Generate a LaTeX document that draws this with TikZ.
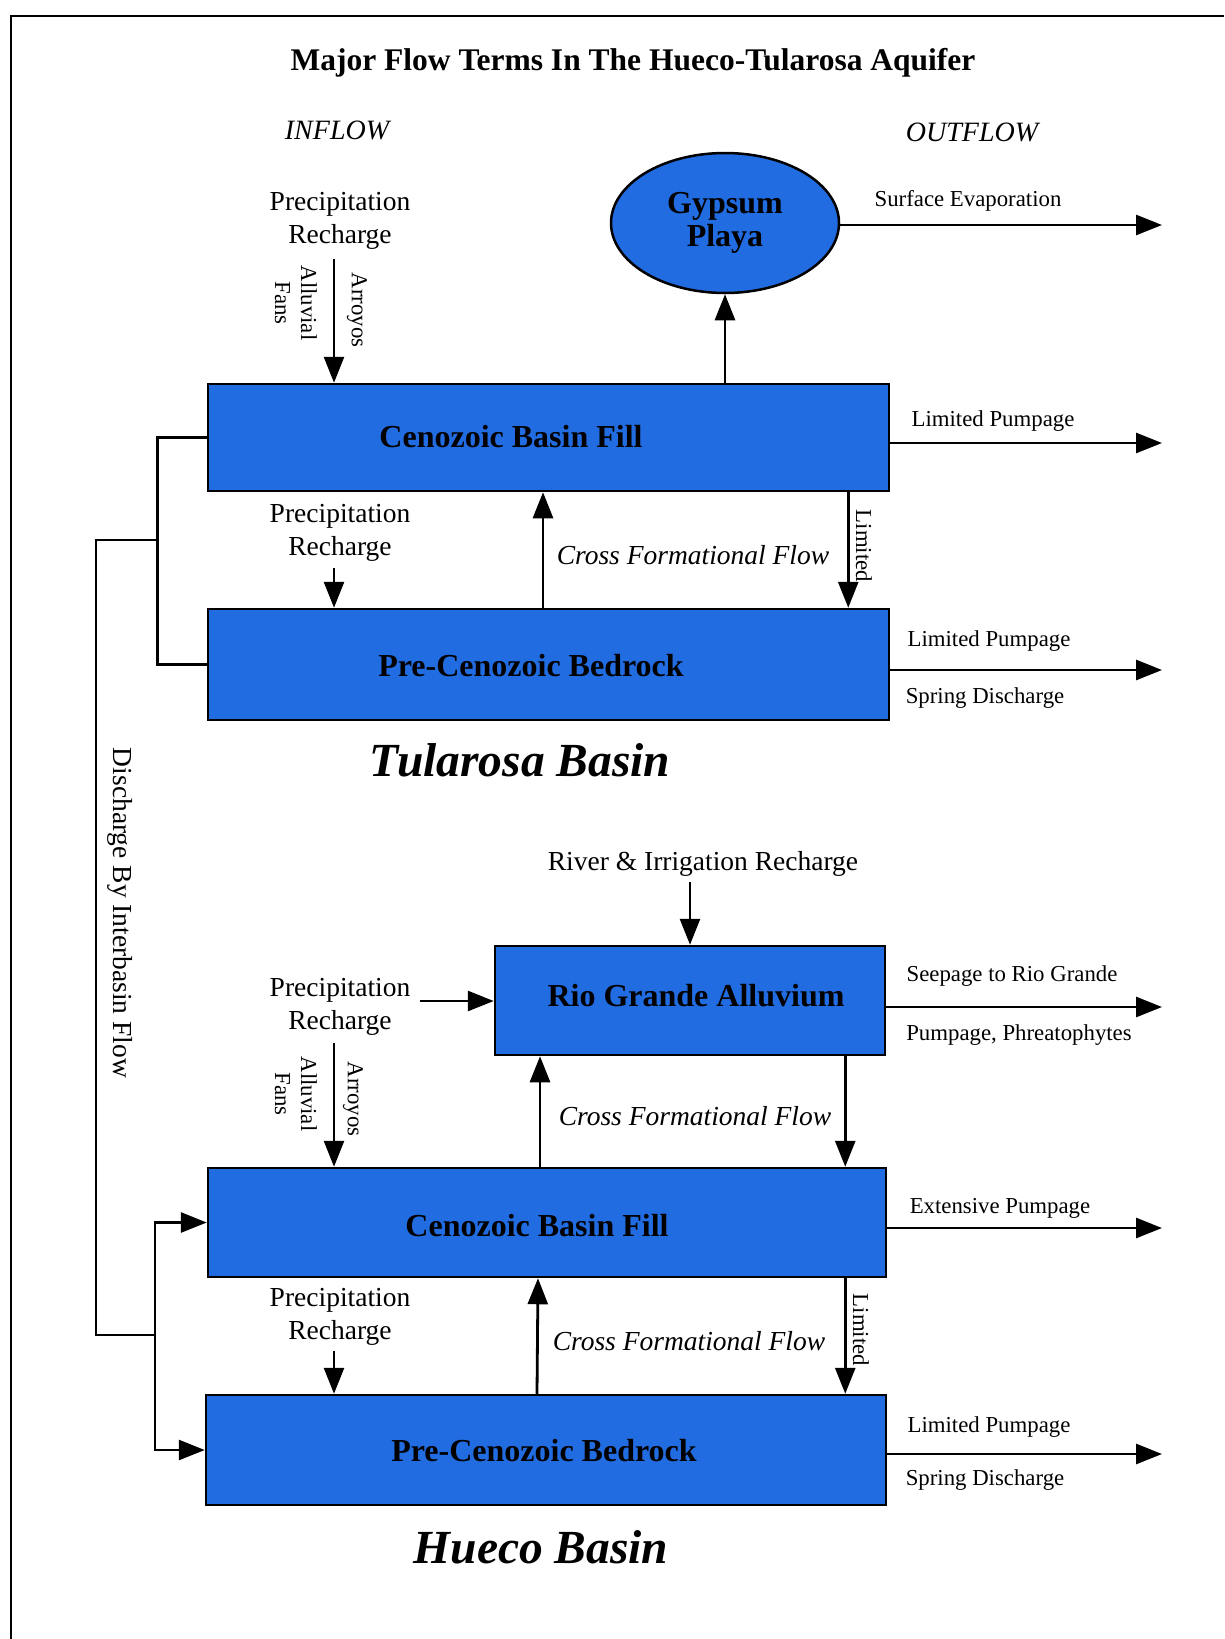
\documentclass[tikz,border=0pt]{standalone}
\usepackage{fontspec}
\setmainfont{Liberation Serif}
\usepackage{xcolor}
\usetikzlibrary{arrows.meta, positioning, calc, shapes.geometric}
\definecolor{basinblue}{RGB}{34,108,226}

\begin{document}
\begin{tikzpicture}[
    x=1pt, y=-1pt,
    line width=2.8pt,
    flow/.style={-{Triangle[length=26pt,width=20pt]}},
    basinbox/.style={draw=black, line width=2.5pt, fill=basinblue, inner sep=0pt},
    boxtext/.style={font=\bfseries\fontsize{32}{34}\selectfont},
    termtext/.style={font=\fontsize{27.5}{32.5}\selectfont, align=center, inner sep=2pt},
    smalltext/.style={font=\fontsize{22.8}{26}\selectfont, inner sep=0pt},
    crosstext/.style={font=\itshape\fontsize{27.5}{32}\selectfont, inner sep=0pt},
    basintitle/.style={font=\bfseries\itshape\fontsize{47.5}{52}\selectfont}
]

\useasboundingbox (0,0) rectangle (1224,1639);

% frame
\draw[line width=2.5pt] (11,1639) -- (11,16) -- (1224,16);

% =========================================================
% HEADER
% =========================================================
\node[font=\bfseries\fontsize{31.5}{34}\selectfont] (title) at (633,63) {Major Flow Terms In The Hueco-Tularosa Aquifer};
\node[font=\itshape\fontsize{28}{32}\selectfont] (inflow) at (337,130) {INFLOW};
\node[font=\itshape\fontsize{28}{32}\selectfont] (outflow) at (972,132) {OUTFLOW};

% =========================================================
% TULAROSA BASIN
% =========================================================
\begin{scope}

% boxes
\node[basinbox, ellipse, minimum width=228, minimum height=140,
      font=\bfseries\fontsize{32}{33.5}\selectfont, align=center] (playa) at (725,223) {Gypsum\\Playa};
\node[basinbox, minimum width=681, minimum height=107] (tfill) at (548.5,437.5) {};
\node[boxtext] (tfilltext) at (511,437) {Cenozoic Basin Fill};
\node[basinbox, minimum width=681, minimum height=111] (tbed) at (548.5,664.5) {};
\node[boxtext] (tbedtext) at (531,666) {Pre-Cenozoic Bedrock};

% inflow terms
\node[termtext] (ptop) at (340,221) {Precipitation\\Recharge};
\draw[flow] ([xshift=-6pt,yshift=-6pt]ptop.south) -- ([xshift=-6pt]ptop.south |- tfill.north);
\node[smalltext, rotate=-90, align=center] (tfans) at (296,303) {Alluvial\\Fans};
\node[smalltext, rotate=-90] (tarroyos) at (357,310) {Arroyos};

\node[termtext] (ptmid) at (340,533) {Precipitation\\Recharge};
\draw[flow] ([xshift=-6pt,yshift=-3pt]ptmid.south) -- ([xshift=-6pt]ptmid.south |- tbed.north);

% between the boxes
\draw[flow] (playa.south |- tfill.north) -- (playa.south);
\draw[flow] ([xshift=-5.5pt]tbed.north) -- ([xshift=-5.5pt]tfill.south);
\node[crosstext] (tcross) at (693,555) {Cross Formational Flow};
\draw[flow] ([xshift=-42pt]tfill.south east) -- ([xshift=-42pt]tbed.north east);
\node[smalltext, rotate=-90] (tlimited) at (864,546) {Limited};

% outflow terms
\coordinate (evapend) at (1162,225);
\draw[flow] (evapend -| playa.east) -- (evapend);
\node[smalltext] (evap) at (968,201) {Surface Evaporation};

\coordinate (tpumpend) at (1162,443);
\draw[flow] (tpumpend -| tfill.east) -- (tpumpend);
\node[smalltext] (tpump) at (993,421) {Limited Pumpage};

\coordinate (tspringend) at (1162,670);
\draw[flow] (tspringend -| tbed.east) -- (tspringend);
\node[smalltext] (tbedpump) at (989,641) {Limited Pumpage};
\node[smalltext] (tspring) at (985,698) {Spring Discharge};

\node[basintitle] (tularosa) at (520,760) {Tularosa Basin};

\end{scope}

% =========================================================
% HUECO BASIN
% =========================================================
\begin{scope}

% boxes
\node[basinbox, minimum width=390, minimum height=109] (rio) at (690,1000.5) {};
\node[boxtext] (riotext) at (696,996) {Rio Grande Alluvium};
\node[basinbox, minimum width=678, minimum height=109] (hfill) at (547,1222.5) {};
\node[boxtext] (hfilltext) at (537,1226) {Cenozoic Basin Fill};
\node[basinbox, minimum width=680, minimum height=110] (hbed) at (546,1450) {};
\node[boxtext] (hbedtext) at (544,1451) {Pre-Cenozoic Bedrock};

% inflow terms
\node[termtext] (river) at (703,864) {River \& Irrigation Recharge};
\draw[flow] ([yshift=-2pt]river.south -| rio.north) -- (rio.north);

\node[termtext] (phtop) at (340,1007) {Precipitation\\Recharge};
\draw[flow] ([yshift=6pt,xshift=6pt]phtop.east) -- ([yshift=6pt]phtop.east -| rio.west);
\draw[flow] ([xshift=-6pt,yshift=-4pt]phtop.south) -- ([xshift=-6pt]phtop.south |- hfill.north);
\node[smalltext, rotate=-90, align=center] (hfans) at (296,1094) {Alluvial\\Fans};
\node[smalltext, rotate=-90] (harroyos) at (353,1099) {Arroyos};

\node[termtext] (phmid) at (340,1317) {Precipitation\\Recharge};
\draw[flow] ([xshift=-6pt,yshift=-2pt]phmid.south) -- ([xshift=-6pt]phmid.south |- hbed.north);

% between the boxes
\draw[flow] ([xshift=-7pt]hfill.north) -- ([xshift=-7pt]hfill.north |- rio.south);
\draw[flow] ([xshift=-41pt]rio.south east) -- ([xshift=-41pt]rio.south east |- hfill.north);
\node[crosstext] (hcrossup) at (695,1116) {Cross Formational Flow};
\draw[flow] ([xshift=-9pt]hbed.north) -- ([xshift=-9pt]hfill.south);
\node[crosstext] (hcross) at (689,1341) {Cross Formational Flow};
\draw[flow] ([xshift=-42pt]hfill.south east) -- ([xshift=-42pt]hbed.north east);
\node[smalltext, rotate=-90] (hlimited) at (861,1330) {Limited};

% outflow terms
\coordinate (seepend) at (1162,1007);
\draw[flow] (seepend -| rio.east) -- (seepend);
\node[smalltext] (seep) at (1012,976) {Seepage to Rio Grande};
\node[smalltext] (phreat) at (1019,1035) {Pumpage, Phreatophytes};

\coordinate (hpumpend) at (1162,1228);
\draw[flow] (hpumpend -| hfill.east) -- (hpumpend);
\node[smalltext] (hpump) at (1000,1208) {Extensive Pumpage};

\coordinate (hspringend) at (1162,1454);
\draw[flow] (hspringend -| hbed.east) -- (hspringend);
\node[smalltext] (hbedpump) at (989,1427) {Limited Pumpage};
\node[smalltext] (hspring) at (985,1480) {Spring Discharge};

\node[basintitle] (hueco) at (541,1547) {Hueco Basin};

\end{scope}

% =========================================================
% INTERBASIN DISCHARGE
% =========================================================
\draw (tfill.west) -- ++(-49,0) |- (tbed.west);
\coordinate (tsplit) at (159,540);
\coordinate (hsplit) at (155,1335);
\draw (tsplit) -- (96,540) |- (hsplit);
\draw[flow] (hsplit) |- (hfill.west);
\draw[flow] (hsplit) |- (hbed.west);
\node[font=\fontsize{27.5}{32}\selectfont, rotate=-90] (interbasin) at (120,913) {Discharge By Interbasin Flow};

\end{tikzpicture}
\end{document}
